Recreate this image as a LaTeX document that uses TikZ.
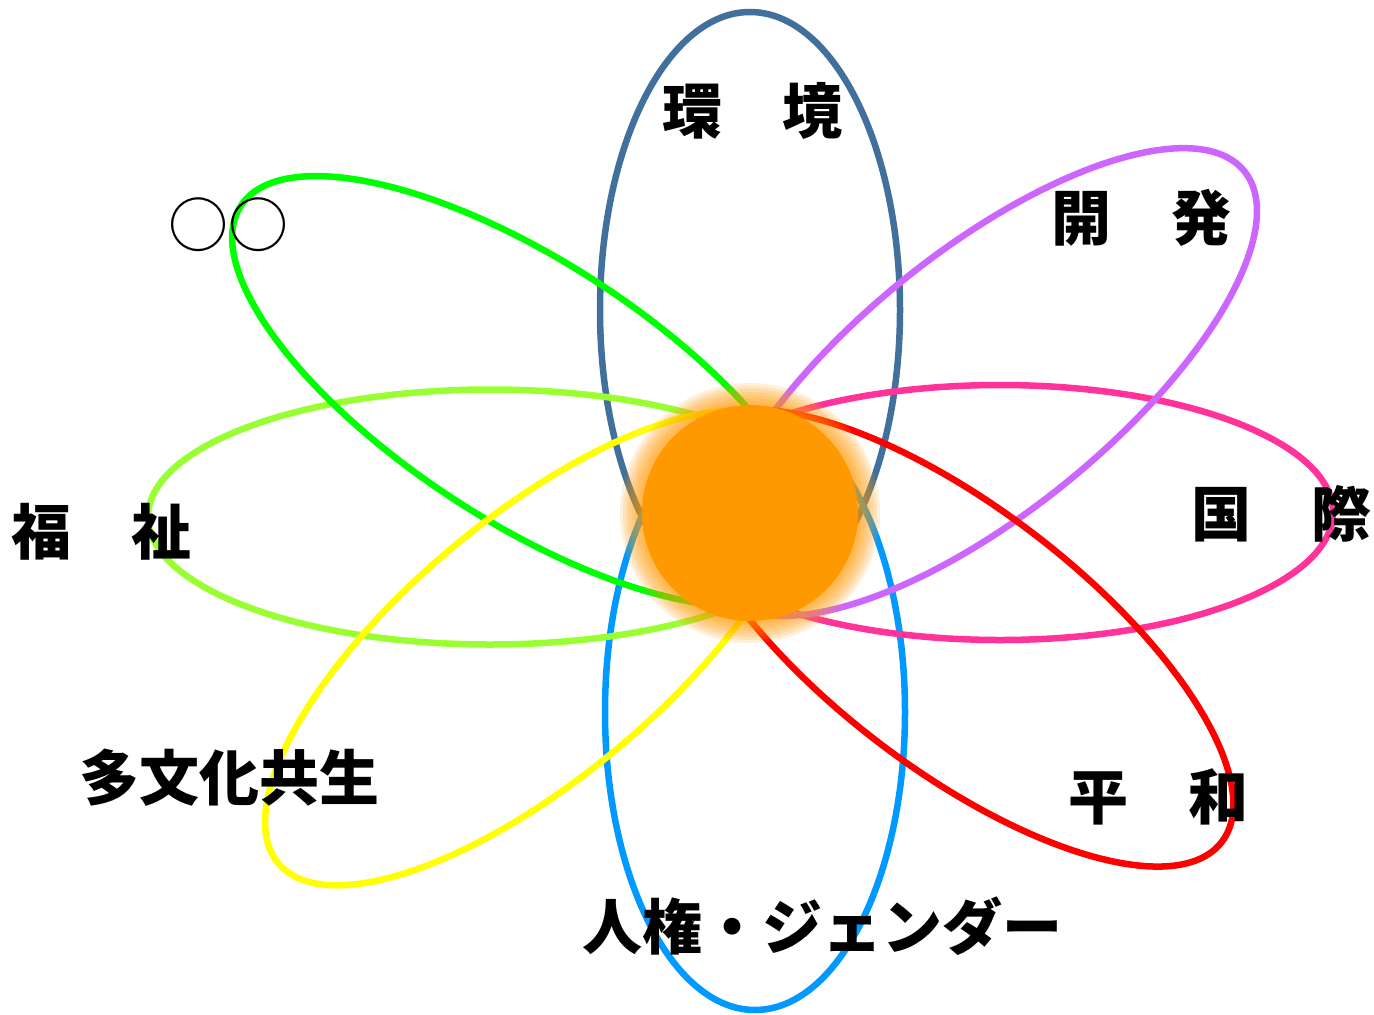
\documentclass[tikz,border=0pt]{standalone}
\usepackage{fontspec}
\newfontfamily\cjk{Noto Sans CJK JP}
\definecolor{cTop}{HTML}{41709C}
\definecolor{cBot}{HTML}{0099FF}
\definecolor{cLeft}{HTML}{99FF33}
\definecolor{cRight}{HTML}{FF3399}
\definecolor{cGreen}{HTML}{00FF00}
\definecolor{cPurple}{HTML}{CC66FF}
\definecolor{cRed}{HTML}{FF0000}
\definecolor{cYellow}{HTML}{FFFF00}
\definecolor{cOrange}{HTML}{FF9900}
\begin{document}
\begin{tikzpicture}[x=1pt,y=-1pt,
  petal/.style={line width=6.5pt},
  lbl/.style={font=\cjk\bfseries\fontsize{60}{60}\selectfont, inner sep=0pt, text=black},
  lblthin/.style={font=\cjk\fontsize{60}{60}\selectfont, inner sep=0pt, text=black}]
\fill[white] (0,0) rectangle (1374,1015);
\useasboundingbox (0,0) rectangle (1374,1015);
% petals
\draw[petal, cTop] (750,310) ellipse [x radius=150, y radius=298];
\draw[petal, cBot] (755,712) ellipse [x radius=150, y radius=298];
\draw[petal, cLeft] (490,517) ellipse [x radius=342, y radius=127.5];
\draw[petal, cRight] (1000,512.5) ellipse [x radius=333, y radius=127.5];
\draw[petal, cGreen, rotate around={-33:(526,391)}] (526,391) ellipse [x radius=340, y radius=130];
\draw[petal, cPurple, rotate around={39:(984,382)}] (984,382) ellipse [x radius=335, y radius=130];
\draw[petal, cRed, rotate around={-37.5:(956,638)}] (956,638) ellipse [x radius=335, y radius=130];
\draw[petal, cYellow, rotate around={40:(535,648)}] (535,648) ellipse [x radius=335, y radius=130];
% orange core with soft glow
\coordinate (core) at (750,513);
\foreach \r in {130,127,...,109} \fill[cOrange, fill opacity=0.14] (core) circle [radius=\r];
\fill[cOrange, fill opacity=0.97] (core) circle [radius=108];
% labels
\node[lbl] (kankyo) at (752,111) {環　境};
\node[lbl] (kaihatsu) at (1141,218) {開　発};
\node[lbl] (kokusai) at (1281,514) {国　際};
\node[lbl] (heiwa) at (1158,797) {平　和};
\node[lbl] (jinken) at (822,926) {人権・ジェンダー};
\node[lbl] (tabunka) at (229,778) {多文化共生};
\node[lbl] (fukushi) at (102,532) {福　祉};
\node[lblthin] (maru) at (228,225) {○○};
\end{tikzpicture}
\end{document}
